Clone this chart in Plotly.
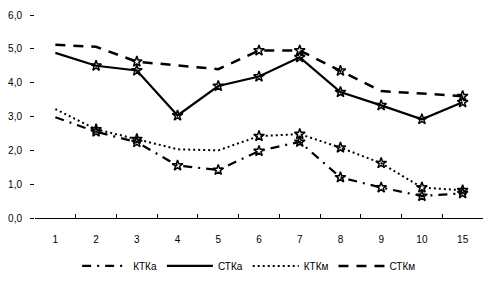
import plotly.graph_objects as go

categories = ["1", "2", "3", "4", "5", "6", "7", "8", "9", "10", "15"]
ktka = [2.98, 2.55, 2.24, 1.55, 1.42, 1.98, 2.25, 1.20, 0.90, 0.65, 0.73]
ctka = [4.88, 4.50, 4.36, 3.03, 3.90, 4.18, 4.75, 3.72, 3.33, 2.92, 3.42]
ktkm = [3.22, 2.62, 2.33, 2.03, 2.00, 2.42, 2.48, 2.08, 1.62, 0.90, 0.82]
ctkm = [5.12, 5.06, 4.62, 4.52, 4.40, 4.95, 4.95, 4.35, 3.75, 3.68, 3.60]

# significance stars (1 = star shown)
ktka_star = [0, 1, 1, 1, 1, 1, 1, 1, 1, 1, 1]
ctka_star = [0, 1, 1, 1, 1, 1, 1, 1, 1, 1, 1]
ktkm_star = [0, 1, 1, 0, 0, 1, 1, 1, 1, 1, 1]
ctkm_star = [0, 0, 1, 0, 0, 1, 1, 1, 0, 0, 1]

names = ["КТКа", "СТКа", "КТКм", "СТКм"]
series = [ktka, ctka, ktkm, ctkm]
stars = [ktka_star, ctka_star, ktkm_star, ctkm_star]
dashes = ["9px,6px,2px,6px", "solid", "2px,3px", "10px,8px"]
widths = [2.2, 2.2, 2, 2.5]

fig = go.Figure()
for name, vals, dash, w in zip(names, series, dashes, widths):
    fig.add_trace(go.Scatter(x=categories, y=vals, mode="lines", name=name,
                             line=dict(color="black", width=w, dash=dash)))
for vals, st in zip(series, stars):
    xs = [c for c, s in zip(categories, st) if s]
    ys = [v for v, s in zip(vals, st) if s]
    fig.add_trace(go.Scatter(x=xs, y=ys, mode="markers", showlegend=False,
                             marker=dict(symbol="star-open", size=8, color="black",
                                         line=dict(width=1.5, color="black"))))

fig.update_layout(
    width=489, height=278,
    margin=dict(l=27, r=14, t=7, b=68, autoexpand=False),
    paper_bgcolor="white", plot_bgcolor="white",
    font=dict(family="Liberation Sans, Arial, sans-serif", size=10, color="black"),
    showlegend=True,
    legend=dict(orientation="h", x=0.478, xanchor="center", y=-0.236, yanchor="middle",
                font=dict(size=10), traceorder="normal", itemwidth=46,
                bgcolor="rgba(0,0,0,0)"),
    xaxis=dict(type="category", categoryorder="array", categoryarray=categories,
               showline=True, linecolor="black", linewidth=1, showgrid=False,
               ticks="inside", ticklen=4, tickcolor="black", tickson="boundaries",
               ticklabelstandoff=12, range=[-0.5, 10.5], zeroline=False),
    yaxis=dict(range=[0, 6], tickvals=[0, 1, 2, 3, 4, 5, 6],
               ticktext=["0,0", "1,0", "2,0", "3,0", "4,0", "5,0", "6,0"],
               showline=False, showgrid=False, zeroline=False,
               ticks="outside", ticklen=4, tickcolor="black", ticklabelstandoff=6),
)

fig.write_html("out.html")
